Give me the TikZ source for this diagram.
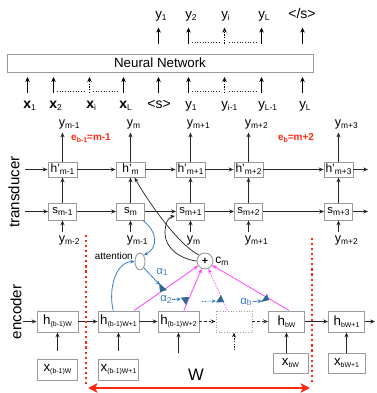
\documentclass[tikz,border=0pt]{standalone}
\usepackage{fontspec}
\setmainfont{Liberation Sans}
\usetikzlibrary{arrows.meta,calc,shapes.geometric}
\definecolor{attblue}{HTML}{3A7FC4}
\definecolor{wmag}{HTML}{FF44FF}
\definecolor{wtri}{HTML}{2C6A8E}
\definecolor{wred}{HTML}{FF2A14}
\definecolor{boxgray}{HTML}{9A9A9A}
\newcommand{\lsub}[1]{\raisebox{-0.3ex}{\fontsize{6.3}{6.3}\selectfont #1}}
\newcommand{\bsub}[1]{\raisebox{-0.3ex}{\fontsize{5.2}{5.2}\selectfont #1}}
\begin{document}
\begin{tikzpicture}[x=0.75pt,y=-0.75pt,
  ar/.style={-{Stealth[length=3.6pt,width=3pt]},draw=black!85,line width=0.55pt},
  nar/.style={-{Stealth[length=3.8pt,width=3.4pt]},draw=black,line width=0.8pt},
  dar/.style={nar,dash pattern=on 1pt off 1pt},
  dotln/.style={draw=black!85,line width=0.7pt,dash pattern=on 0.7pt off 1.3pt},
  bx/.style={draw=boxgray,line width=0.7pt,fill=white,inner sep=0.5pt},
  hp/.style={bx,minimum width=21.75pt,minimum height=11.25pt,font=\fontsize{9}{9}\selectfont},
  sb/.style={bx,minimum width=21pt,minimum height=12.75pt,font=\fontsize{8.5}{8.5}\selectfont},
  hb/.style={bx,minimum width=30.75pt,minimum height=15.75pt,font=\fontsize{10}{10}\selectfont},
  hn/.style={bx,minimum width=27pt,minimum height=15.75pt,font=\fontsize{10}{10}\selectfont},
  lb/.style={inner sep=0pt,anchor=base west,font=\fontsize{10}{10}\selectfont},
  tl/.style={inner sep=0pt,anchor=base west,font=\fontsize{9.5}{9.5}\selectfont},
  elab/.style={inner sep=0pt,text=wred,font=\bfseries\fontsize{7.5}{7.5}\selectfont},
  alab/.style={inner sep=0pt,text=attblue,font=\fontsize{8.5}{8.5}\selectfont},
  bar/.style={-{Stealth[length=3.2pt,width=2.8pt]},draw=attblue,line width=0.6pt},
  mar/.style={-{Stealth[length=3.6pt,width=3pt]},draw=wmag,line width=0.6pt},
  tri/.style={fill=wtri,draw=none},
  side/.style={inner sep=0pt,rotate=90,font=\fontsize{11.3}{11.3}\selectfont}
]
\useasboundingbox (0,0) rectangle (377,393);

% ---------- sequence model ----------
\node[draw=boxgray,line width=0.7pt,minimum width=229.5pt,minimum height=13.5pt,inner sep=0pt,
      font=\fontsize{10}{10}\selectfont] (nn) at (160,63) {Neural Network};

% outputs above the network, each fed from the network box
\node[lb] (o1) at (155,18) {y\lsub{1}};
\node[lb] (o2) at (185,18) {y\lsub{2}};
\node[lb] (o3) at (221,18) {y\lsub{i}};
\node[lb] (o4) at (258,18) {y\lsub{L}};
\node[inner sep=0pt,anchor=base,font=\fontsize{10.5}{10.5}\selectfont] (o5) at (302,18) {</s>};
\draw[nar] (nn.north -| o1.west) ++(3.5,-10) -- ++(0,-16);
\draw[nar] (nn.north -| o2.west) ++(3.5,-10) -- ++(0,-16);
\draw[dar] (nn.north -| o3.west) ++(3.5,-10) -- ++(0,-16);
\draw[nar] (nn.north -| o4.west) ++(3.5,-10) -- ++(0,-16);
\draw[nar] (nn.north -| o5) ++(0.5,-10) -- ++(0,-16);
\draw[dotln] (192,42.5) -- (220,42.5);
\draw[dotln] (229,42.5) -- (256,42.5);

% inputs below the network
\node[lb,font=\bfseries\fontsize{10.5}{10.5}\selectfont] (i1) at (23,108) {x\lsub{\mdseries 1}};
\node[lb,font=\bfseries\fontsize{10.5}{10.5}\selectfont] (i2) at (49,108) {x\lsub{\mdseries 2}};
\node[lb,font=\bfseries\fontsize{10.5}{10.5}\selectfont] (i3) at (86,108) {x\lsub{\mdseries i}};
\node[lb,font=\bfseries\fontsize{10.5}{10.5}\selectfont] (i4) at (119,108) {x\lsub{\mdseries L}};
\node[inner sep=0pt,anchor=base,font=\fontsize{10.5}{10.5}\selectfont] (i5) at (159,108) {<s>};
\node[lb] (i6) at (185,108) {y\lsub{1}};
\node[lb] (i7) at (221,108) {y\lsub{i-1}};
\node[lb] (i8) at (258,108) {y\lsub{L-1}};
\node[lb] (i9) at (299,108) {y\lsub{L}};
\foreach \k/\xx in {1/27.5,2/53.5,3/89.5,4/123.5,5/158.5,6/188.5,7/224.5,8/261.5,9/302.5}{
  \path (\xx,93) coordinate (it\k) (\xx,77) coordinate (ih\k);
}
\draw[nar] (it1) -- (ih1);
\draw[nar] (it2) -- (ih2);
\draw[dar] (it3) -- (ih3);
\draw[nar] (it4) -- (ih4);
\draw[nar] (it5) -- (ih5);
\draw[nar] (it6) -- (ih6);
\draw[dar] (it7) -- (ih7);
\draw[nar] (it8) -- (ih8);
\draw[nar] (it9) -- (ih9);
\draw[dotln] (57,91.5) -- (86,91.5);
\draw[dotln] (93,91.5) -- (119,91.5);
\draw[dotln] (192,91.5) -- (220,91.5);
\draw[dotln] (229,91.5) -- (256,91.5);

% ---------- transducer ----------
\node[side] (tr) at (14,192) {transducer};

\node[hp] (hp1) at (62.5,169.5) {h'\lsub{m-1}};
\node[hp] (hp2) at (130.5,169.5) {h'\lsub{m}};
\node[hp] (hp3) at (190.5,169.5) {h'\lsub{m+1}};
\node[hp] (hp4) at (248.5,169.5) {h'\lsub{m+2}};
\node[hp] (hp5) at (338.5,169.5) {h'\lsub{m+3}};

\node[sb] (s1) at (62.5,211.5) {s\lsub{m-1}};
\node[sb] (s2) at (130.5,211.5) {s\lsub{m}};
\node[sb] (s3) at (190.5,211.5) {s\lsub{m+1}};
\node[sb] (s4) at (248.5,211.5) {s\lsub{m+2}};
\node[sb] (s5) at (338.5,211.5) {s\lsub{m+3}};

\coordinate (hin) at (25,169.5);
\coordinate (hout) at (368,169.5);
\coordinate (sin) at (25,211.5);
\coordinate (sout) at (368,211.5);
\draw[ar] (hin) -- (hp1);
\draw[ar] (hp1) -- (hp2);
\draw[ar] (hp2) -- (hp3);
\draw[ar] (hp3) -- (hp4);
\draw[ar] (hp4) -- (hp5);
\draw[ar] (hp5) -- (hout);
\draw[ar] (sin) -- (s1);
\draw[ar] (s1) -- (s2);
\draw[ar] (s2) -- (s3);
\draw[ar] (s3) -- (s4);
\draw[ar] (s4) -- (s5);
\draw[ar] (s5) -- (sout);

% outputs and inputs of every step
\foreach \n/\t in {1/m-1,2/m,3/m+1,4/m+2,5/m+3}{
  \node[tl] (yo\n) at ($(hp\n.center)+(-4,-43)$) {y\lsub{\t}};
  \draw[ar] (hp\n.north) -- ++(0,-29);
  \draw[ar] (s\n.north) -- (hp\n.south);
}
\foreach \n/\t in {1/m-2,2/m-1,3/m,4/m+1,5/m+2}{
  \node[tl] (yi\n) at ($(s\n.center)+(-4,31)$) {y\lsub{\t}};
  \draw[ar] ($(s\n.south)+(0,12)$) -- (s\n.south);
}

\node[elab] (eb1) at (91,138) {e\bsub{b-1}=m-1};
\node[elab] (eb2) at (296,138) {e\bsub{b}=m+2};

% ---------- encoder ----------
\node[side] (en) at (16,312) {encoder};

\node[hb] (e1) at (57.5,321.5) {h\bsub{(b-1)W}};
\node[hb] (e2) at (118.5,321.5) {h\bsub{(b-1)W+1}};
\node[hb] (e3) at (178.5,321.5) {h\bsub{(b-1)W+2}};
\node[draw=boxgray,line width=0.7pt,dash pattern=on 0.8pt off 1.2pt,minimum width=27pt,
      minimum height=15.75pt,inner sep=0pt] (eD) at (234,321.5) {};
\node[hn] (e5) at (286.5,321.5) {h\bsub{bW}};
\node[hn] (e6) at (346.5,321.5) {h\bsub{bW+1}};

\node[hb,minimum width=30pt] (x1) at (57.5,370) {x\bsub{(b-1)W}};
\node[hb,minimum width=30pt] (x2) at (118.5,370) {x\bsub{(b-1)W+1}};
\node[hn,minimum width=26.25pt,minimum height=15pt] (x5) at (290.5,363) {x\bsub{bW}};
\node[hn,minimum width=27.75pt,minimum height=15pt] (x6) at (346.5,363) {x\bsub{bW+1}};

\coordinate (ein) at (23,321.5);
\coordinate (eout) at (375,321.5);
\draw[ar] (ein) -- (e1);
\draw[ar] (e1) -- (e2);
\draw[ar] (e2) -- (e3);
\draw[ar,dash pattern=on 2pt off 1.5pt] (e3) -- (eD);
\draw[ar,dash pattern=on 2pt off 1.5pt] (eD) -- (e5);
\draw[ar] (e5) -- (e6);
\draw[ar] (e6) -- (eout);

\draw[ar,shorten <=6pt] (x1.north) -- (e1.south);
\draw[ar,shorten <=6pt] (x2.north) -- (e2.south);
\draw[ar] ($(e3.south)+(0,21)$) -- (e3.south);
\draw[ar,dash pattern=on 1pt off 1pt] ($(eD.south)+(0,18)$) -- (eD.south);
\draw[ar] (x5.north -| e5.south) -- (e5.south);
\draw[ar] (x6.north) -- (e6.south);

% window boundaries
\draw[wred,line width=2.2pt,dash pattern=on 1.6pt off 2.2pt] (86,235) -- (86,384);
\draw[wred,line width=2.2pt,dash pattern=on 1.6pt off 2.2pt] (312,238) -- (312,384);
\coordinate (wl) at (88,388);
\coordinate (wr) at (310,388);
\draw[wred,line width=1.6pt,{Stealth[length=7pt,width=7pt,inset=1.5pt]}-{Stealth[length=7pt,width=7pt,inset=1.5pt]}] (wl) -- (wr);
\node[inner sep=0pt,font=\fontsize{12.5}{12.5}\selectfont] (W) at (196,375) {W};

% ---------- attention ----------
\node[draw=boxgray,line width=0.7pt,ellipse,minimum width=7.5pt,minimum height=12.75pt,inner sep=0pt] (att) at (140,261.5) {};
\node[inner sep=0pt,anchor=east,font=\fontsize{7.4}{7.4}\selectfont] (attl) at (133,256) {attention};
\node[draw=boxgray,line width=0.7pt,circle,minimum size=12pt,inner sep=0pt,
      font=\bfseries\fontsize{8}{8}\selectfont] (cm) at (205,261) {+};
\node[inner sep=0pt,anchor=west,font=\fontsize{9}{9}\selectfont] (cml) at (215,261) {c\lsub{m}};

\draw[bar] ([xshift=-1.5pt]s2.south east) .. controls (158,232) and (158,248) .. (att.north east);
\draw[bar] ([xshift=-4pt]e2.north) .. controls (108,288) and (116,262) .. (att.west);

% context vector feeds the transducer
\draw[ar] (cm.north west) .. controls (180,246) and (150,205) .. ([xshift=3pt]hp2.south);
\coordinate (sk) at (175,216);
\draw[ar] (cm.west) .. controls (180,259) and (165,248) .. (165,233) .. controls (165,222) and (169,217) .. (sk);

% weighted encoder states
\draw[mar] ([xshift=-4pt]e2.north east) -- (cm);
\draw[mar] ([xshift=4pt]e3.north) -- (cm);
\draw[mar,dash pattern=on 1pt off 1pt] ([xshift=-5pt]eD.north) -- (cm);
\draw[mar] ([xshift=2pt]e5.north) -- (cm);

\coordinate (t1) at (160,285);
\coordinate (t2) at (181,299);
\coordinate (t3) at (216,301);
\coordinate (t4) at (262,301);
\fill[tri] (159,283) -- (160,292) -- (167,290) -- cycle;
\fill[tri] (181,297.5) -- (189,297) -- (186,305) -- cycle;
\fill[tri] (216,302.5) -- (224,302) -- (221,295) -- cycle;
\fill[tri] (261,302) -- (269,300) -- (267,294) -- cycle;

\draw[bar] (att.south east) -- (t1);
\node[alab] (a1) at (162,272) {α\lsub{1}};
\node[alab] (a2) at (166,299.5) {α\lsub{2}};
\draw[bar] (172,299.5) -- (t2);
\draw[bar,dash pattern=on 1pt off 1pt] (202,301.5) -- (t3);
\node[alab] (ab) at (246,302) {α\lsub{b}};
\draw[bar] (253,301.5) -- (t4);
\end{tikzpicture}
\end{document}
